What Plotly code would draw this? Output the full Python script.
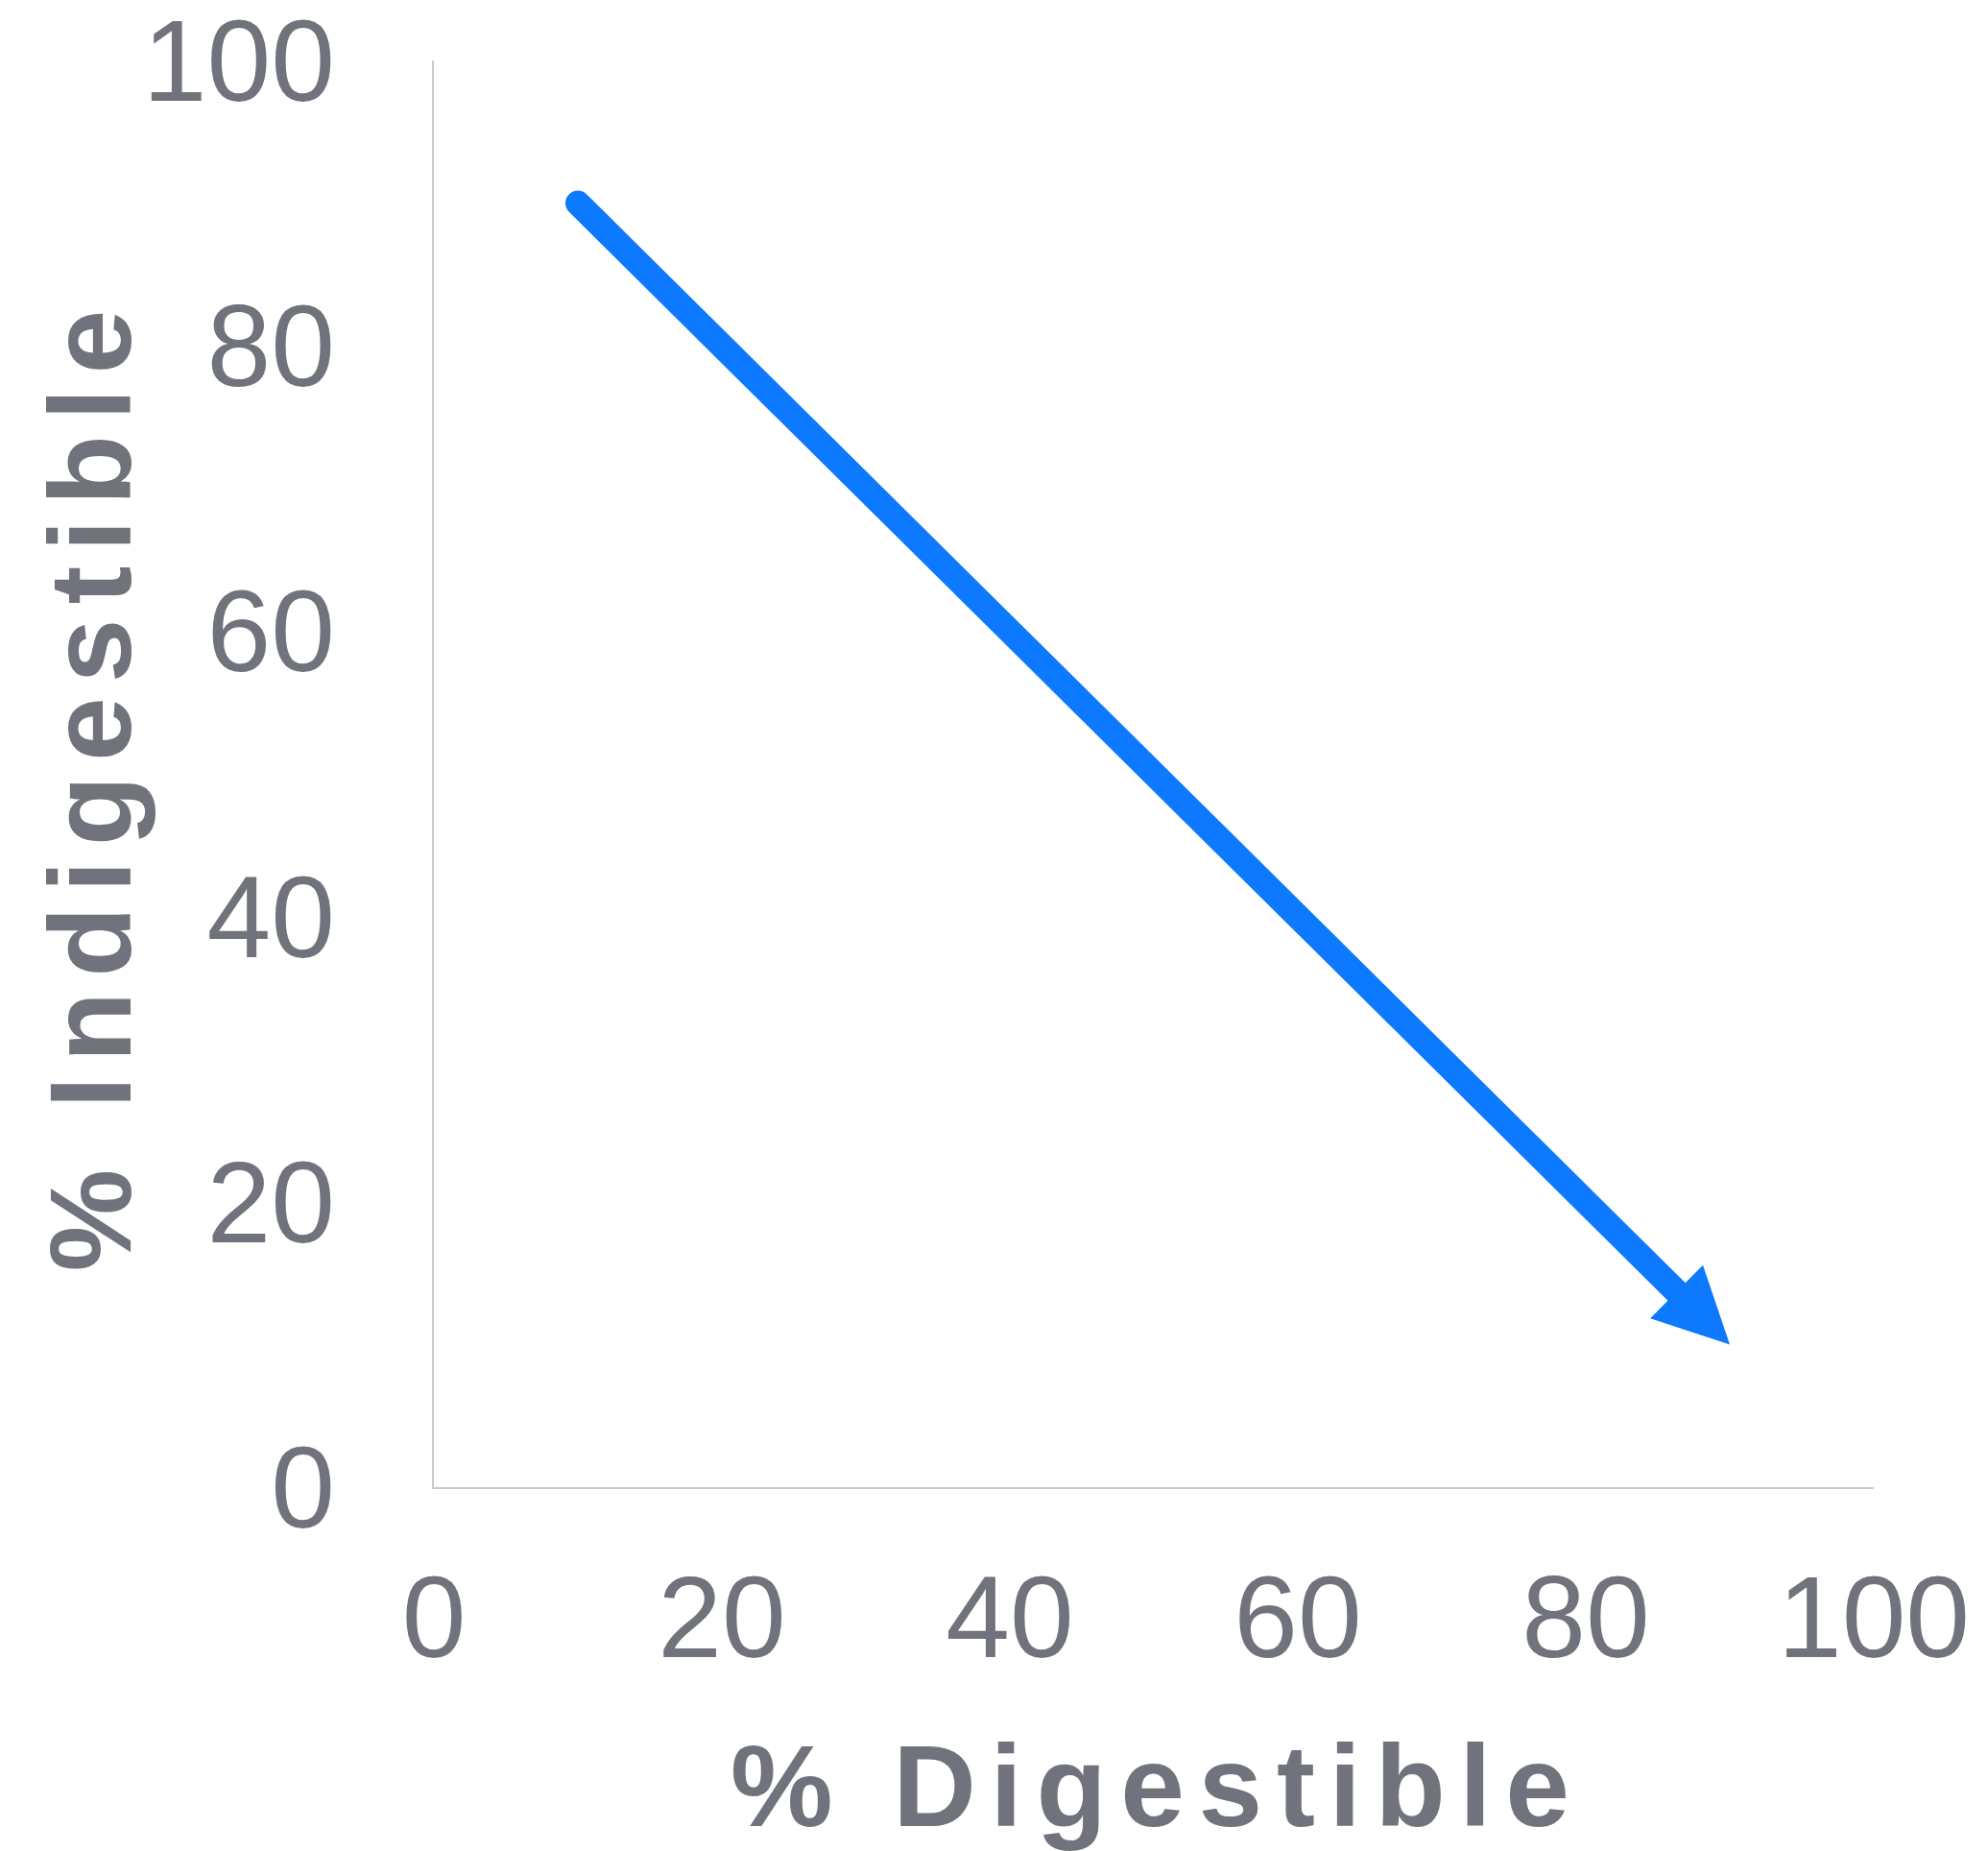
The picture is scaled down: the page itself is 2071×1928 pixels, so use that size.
import plotly.graph_objects as go

# Data
arrow_start_x = [10]
arrow_start_y = [90]
arrow_end_x = [90]
arrow_end_y = [10]
tick_vals = [0, 20, 40, 60, 80, 100]
tick_text = ["0", "20", "40", "60", "80", "100"]
x_title = "% Digestible"
y_title = "% Indigestible"

GRAY = "#70737b"
AXIS = "#c9cacd"
BLUE = "#0c79ff"
FONT = "Liberation Sans, Arial, Helvetica, sans-serif"

# the page body adds an 8px offset; compensate so the plot lands where the reference has it
OFF = 8

fig = go.Figure()

# round cap at arrow start
fig.add_trace(go.Scatter(
    x=arrow_start_x, y=arrow_start_y, mode="markers",
    marker=dict(size=26, color=BLUE, line=dict(width=0)),
    hoverinfo="skip", showlegend=False,
))

for sx, sy, ex, ey in zip(arrow_start_x, arrow_start_y, arrow_end_x, arrow_end_y):
    # thick shaft, stopping inside the head
    fig.add_annotation(
        x=ex, y=ey, ax=sx, ay=sy, xref="x", yref="y", axref="x", ayref="y",
        showarrow=True, arrowhead=0, arrowwidth=26,
        arrowcolor=BLUE, text="", standoff=42,
    )
    # head
    fig.add_annotation(
        x=ex, y=ey, ax=sx, ay=sy, xref="x", yref="y", axref="x", ayref="y",
        showarrow=True, arrowhead=2, arrowwidth=2, arrowsize=7.8,
        arrowcolor=BLUE, text="", standoff=0,
    )

def spaced(t, ls=15, last=15):
    return ('<b><span style="letter-spacing:%gpx">' % ls + t[:-1] + '</span>'
            + '<span style="letter-spacing:%gpx">' % last + t[-1] + '</span></b>')

# y-axis title as a rotated annotation (the axis title gets pushed away from the tick labels)
fig.add_annotation(
    text=spaced(y_title, 15, 15), textangle=-90,
    xref="paper", yref="paper", x=-0.238, y=0.4929,
    xanchor="center", yanchor="middle", showarrow=False,
    font=dict(size=120, color=GRAY, family=FONT),
)

fig.update_layout(
    width=2071 - OFF, height=1928 - OFF,
    margin=dict(l=452 - OFF, r=119, t=63 - OFF, b=379, pad=0, autoexpand=False),
    paper_bgcolor="white", plot_bgcolor="white",
    showlegend=False,
    font=dict(family=FONT, color=GRAY),
    xaxis=dict(
        range=[0, 100], tickvals=tick_vals, ticktext=tick_text, automargin=False,
        showgrid=False, zeroline=False, showline=True, linecolor=AXIS, linewidth=2,
        ticks="", tickfont=dict(size=120, color=GRAY), ticklabelstandoff=31,
        ticklabeloverflow="allow",
        title=dict(text=spaced(x_title, 14.6, 8),
                   font=dict(size=120, color=GRAY, family=FONT), standoff=104),
        fixedrange=True,
    ),
    yaxis=dict(
        range=[0, 100], tickvals=tick_vals, ticktext=tick_text, automargin=False,
        showgrid=False, zeroline=False, showline=True, linecolor=AXIS, linewidth=2,
        ticks="", tickfont=dict(size=120, color=GRAY), ticklabelstandoff=77,
        ticklabeloverflow="allow",
        fixedrange=True,
    ),
)

fig.write_html("out.html")
